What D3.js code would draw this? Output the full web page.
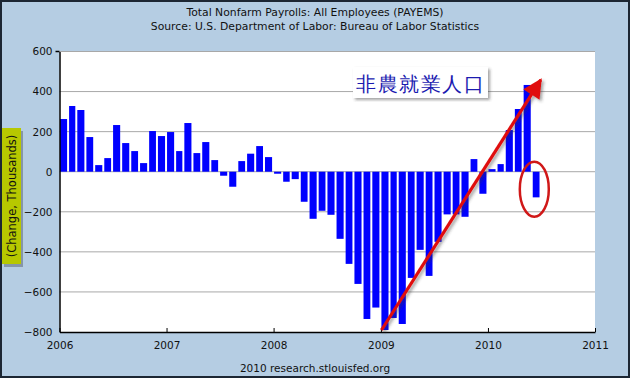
<!DOCTYPE html>
<html>
<head>
<meta charset="utf-8">
<script src="https://cdn.jsdelivr.net/npm/d3@7"></script>
<style>
  body { margin: 0; background: #fff; }
  svg text { font-family: "DejaVu Sans", Verdana, sans-serif; }
</style>
</head>
<body>
<div id="chart"></div>
<script>
// monthly change, Jan 2006 .. Jun 2010 (thousands)
const startMonth = "2006-01"
const payrollChange = [
  263, 328, 308, 173, 33, 68, 233, 143, 103, 43, 203, 178,
  198, 103, 243, 93, 148, 58, -20, -75, 53, 90, 128, 73,
  -10, -50, -37, -150, -235, -195, -215, -335, -460, -560, -735, -678,
  -790, -730, -760, -530, -390, -520, -350, -213, -213, -225, 63, -110,
  13, 38, 208, 313, 433, -128
]
const yTicks = [600, 400, 200, 0, -200, -400, -600, -800]
const xYears = [2006, 2007, 2008, 2009, 2010, 2011]
const titleLines = ["Total Nonfarm Payrolls: All Employees (PAYEMS)", "Source: U.S. Department of Labor: Bureau of Labor Statistics"]
const yLabel = "(Change, Thousands)"
const footer = "2010 research.stlouisfed.org"
const note = "非農就業人口"

const W = 630, H = 378
const margin = {left: 59.5, right: 35, top: 51.5, bottom: 46}

const parseMonth = d3.timeParse("%Y-%m")
const t0 = parseMonth(startMonth)
const data = payrollChange.map((v, i) => ({date: d3.timeMonth.offset(t0, i), value: v}))

const svg = d3.select("#chart").append("svg")
    .attr("width", W).attr("height", H)

// background + frame
svg.append("rect").attr("x", 1).attr("y", 1).attr("width", W - 2).attr("height", H - 2)
    .attr("fill", "#b5cde3").attr("stroke", "#1c2633").attr("stroke-width", 2)

const x = d3.scaleTime()
    .domain([new Date(2006, 0, 1), new Date(2011, 0, 1)])
    .range([margin.left, W - margin.right])
const y = d3.scaleLinear()
    .domain([-800, 600])
    .range([H - margin.bottom, margin.top])

// plot area
svg.append("rect")
    .attr("x", x.range()[0]).attr("y", y(600))
    .attr("width", x.range()[1] - x.range()[0]).attr("height", y(-800) - y(600))
    .attr("fill", "#fff")

// grid
svg.append("g").selectAll("line").data(yTicks.filter(d => d > -800)).join("line")
    .attr("x1", x.range()[0]).attr("x2", x.range()[1])
    .attr("y1", d => y(d)).attr("y2", d => y(d))
    .attr("stroke", "#a8a8a8").attr("stroke-width", 1)

// bars
svg.append("g").selectAll("rect").data(data).join("rect")
    .attr("x", d => x(d.date) + 0.5)
    .attr("width", d => x(d3.timeMonth.offset(d.date, 1)) - x(d.date) - 2)
    .attr("y", d => y(Math.max(0, d.value)))
    .attr("height", d => Math.abs(y(d.value) - y(0)))
    .attr("fill", "#0000ff")

// axes
const yAxis = d3.axisLeft(y).tickValues(yTicks).tickSize(0).tickPadding(7)
const gy = svg.append("g").attr("transform", `translate(${x.range()[0]},0)`).call(yAxis)
gy.select(".domain").attr("stroke", "#000").attr("stroke-width", 1.5)
gy.selectAll("text").attr("font-size", 10.5).attr("fill", "#111")
// small tick at the top of the y axis
svg.append("line").attr("x1", x.range()[0] - 4).attr("x2", x.range()[0])
    .attr("y1", y(600)).attr("y2", y(600)).attr("stroke", "#000").attr("stroke-width", 1.5)

const xAxis = d3.axisBottom(x).tickValues(xYears.map(yr => new Date(yr, 0, 1)))
    .tickFormat(d3.timeFormat("%Y")).tickSizeInner(-4).tickSizeOuter(0).tickPadding(10)
const gx = svg.append("g").attr("transform", `translate(0,${y(-800)})`).call(xAxis)
gx.select(".domain").attr("stroke", "#000").attr("stroke-width", 1.5)
gx.selectAll(".tick line").attr("stroke", "#000")
gx.selectAll("text").attr("font-size", 10.5).attr("fill", "#111")

// titles
svg.selectAll(".title").data(titleLines).join("text")
    .attr("class", "title")
    .attr("x", W / 2).attr("y", (d, i) => 16 + i * 13.5)
    .attr("text-anchor", "middle").attr("font-size", 10.8).attr("fill", "#111")
    .text(d => d)

svg.append("text")
    .attr("x", W / 2).attr("y", 372)
    .attr("text-anchor", "middle").attr("font-size", 10.5).attr("fill", "#111")
    .text(footer)

// y label box
svg.append("rect").attr("x", 4).attr("y", 131).attr("width", 19).attr("height", 136)
    .attr("fill", "#556070").attr("opacity", 0.5)
svg.append("rect").attr("x", 2).attr("y", 128).attr("width", 19).attr("height", 136)
    .attr("fill", "#b7c800")
svg.append("text")
    .attr("transform", "translate(16,196) rotate(-90)")
    .attr("text-anchor", "middle").attr("font-size", 11.5).attr("fill", "#111")
    .text(yLabel)

// annotation: arrow + ellipse + note box
const defs = svg.append("defs")
defs.append("marker").attr("id", "head")
    .attr("viewBox", "0 0 10 10").attr("refX", 9).attr("refY", 5)
    .attr("markerWidth", 8.5).attr("markerHeight", 6).attr("orient", "auto")
    .attr("markerUnits", "strokeWidth")
  .append("path").attr("d", "M0,0 L10,5 L0,10 Z").attr("fill", "#e01010")
defs.append("filter").attr("id", "sh").append("feDropShadow")
    .attr("dx", 2).attr("dy", 2).attr("stdDeviation", 1.5).attr("flood-color", "#333").attr("flood-opacity", 0.45)

const arrowFrom = {date: new Date(2009, 0, 3), value: -790}
const arrowTo = {date: new Date(2010, 5, 30), value: 458}
svg.append("line")
    .attr("x1", x(arrowFrom.date)).attr("y1", y(arrowFrom.value))
    .attr("x2", x(arrowTo.date)).attr("y2", y(arrowTo.value))
    .attr("stroke", "#e01010").attr("stroke-width", 3.2)
    .attr("marker-end", "url(#head)")
    .attr("filter", "url(#sh)")

const circled = {date: new Date(2010, 5, 8), value: -87}
svg.append("ellipse")
    .attr("cx", x(circled.date)).attr("cy", y(circled.value))
    .attr("rx", 14.5).attr("ry", 27.5)
    .attr("fill", "none").attr("stroke", "#d01818").attr("stroke-width", 2.5)

const box = svg.append("g").attr("transform", "translate(353,67)")
box.append("rect").attr("width", 135).attr("height", 31)
    .attr("fill", "#fff").attr("filter", "url(#sh)")
box.append("text")
    .attr("x", 67.5).attr("y", 24)
    .attr("text-anchor", "middle")
    .attr("font-family", "'Noto Sans CJK TC', 'Noto Sans CJK SC', sans-serif")
    .attr("font-size", 20).attr("font-weight", 500).attr("letter-spacing", 1.5).attr("fill", "#1b1bb0")
    .text(note)
</script>
</body>
</html>
